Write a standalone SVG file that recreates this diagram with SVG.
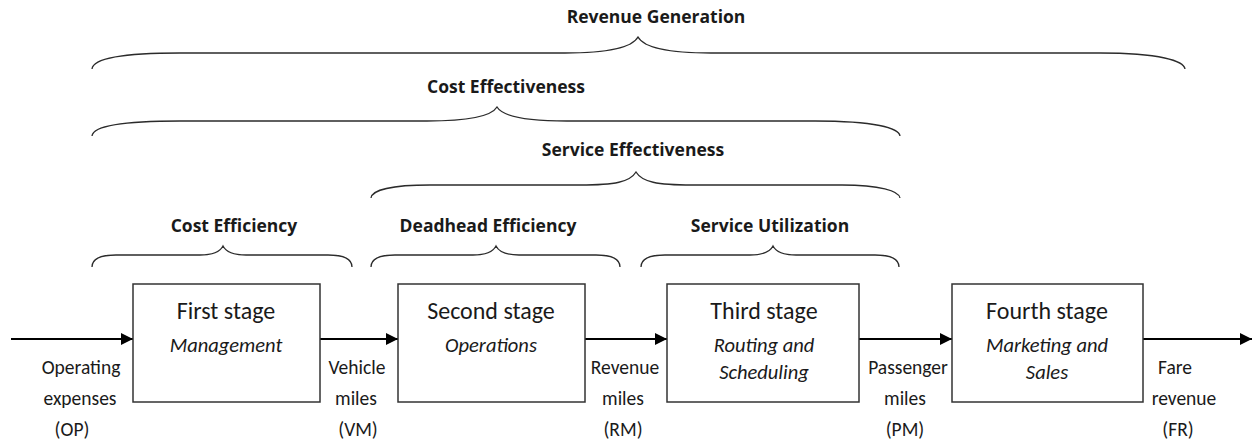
<svg xmlns="http://www.w3.org/2000/svg" width="1253" height="444" viewBox="0 0 1253 444">
  <style>
    text { font-family: Carlito, Lato, "Liberation Sans", sans-serif; fill: #1a1a1a; text-anchor: middle; }
    .hdr { font-family: "Open Sans", Lato, sans-serif; font-weight: bold; font-size: 17.5px; }
    .stage { font-size: 24px; }
    .role { font-size: 20.5px; font-style: italic; }
    .flow { font-size: 19.5px; }
    .brace { fill: none; stroke: #2b2b2b; stroke-width: 1.3; }
    .box { fill: #fff; stroke: #333; stroke-width: 1.5; }
    .arrow { stroke: #000; stroke-width: 2; fill: none; marker-end: url(#head); }
  </style>
  <defs>
    <marker id="head" viewBox="0 0 12 12" refX="12" refY="6" markerWidth="12" markerHeight="12" markerUnits="userSpaceOnUse" orient="auto">
      <path d="M0,0 L12,6 L0,12 Z" fill="#000"/>
    </marker>
  </defs>

  <rect width="1253" height="444" fill="#fff"/>

  <!-- Grouping braces and their headings -->
  <g id="revenue-generation">
    <text class="hdr" x="656" y="23">Revenue Generation</text>
    <path class="brace" d="M92,69 C93,59 120,53 180,53 L565,53 C605,53 632,48 638,37 C644,48 671,53 711,53 L1100,53 C1160,53 1184,61 1185,69"/>
  </g>
  <g id="cost-effectiveness">
    <text class="hdr" x="506" y="93">Cost Effectiveness</text>
    <path class="brace" d="M92,136 C93,126 120,121 180,121 L427,121 C465,121 491,117 497,107 C503,117 529,121 567,121 L815,121 C875,121 899,128 900,136"/>
  </g>
  <g id="service-effectiveness">
    <text class="hdr" x="633" y="156">Service Effectiveness</text>
    <path class="brace" d="M371,198 C372,190 392,185 430,185 L580,185 C615,185 630,182 636,172 C642,182 657,185 692,185 L842,185 C880,185 899,191 900,198"/>
  </g>
  <g id="cost-efficiency">
    <text class="hdr" x="234" y="232">Cost Efficiency</text>
    <path class="brace" d="M92,267 C92,260 98,255 116,255 L200,255 C214,255 220,252 223,246 C226,252 232,255 246,255 L328,255 C346,255 352,260 352,267"/>
  </g>
  <g id="deadhead-efficiency">
    <text class="hdr" x="488" y="232">Deadhead Efficiency</text>
    <path class="brace" d="M371,267 C371,260 377,255 395,255 L473,255 C487,255 493,252 496,246 C499,252 505,255 519,255 L596,255 C614,255 620,260 620,267"/>
  </g>
  <g id="service-utilization">
    <text class="hdr" x="770" y="232">Service Utilization</text>
    <path class="brace" d="M641,267 C641,260 647,255 665,255 L750,255 C764,255 770,252 773,246 C776,252 782,255 796,255 L875,255 C893,255 899,260 899,267"/>
  </g>

  <!-- Flow arrows between stages -->
  <g id="connectors">
    <path class="arrow" d="M11,339 L133,339"/>
    <path class="arrow" d="M320,339 L398,339"/>
    <path class="arrow" d="M585,339 L667,339"/>
    <path class="arrow" d="M859,339 L952,339"/>
    <path class="arrow" d="M1143,339 L1252,339"/>
  </g>

  <!-- Stage boxes -->
  <g id="stage-1">
    <rect class="box" x="133" y="284" width="187" height="118"/>
    <text class="stage" x="226" y="319">First stage</text>
    <text class="role" x="226" y="352">Management</text>
  </g>
  <g id="stage-2">
    <rect class="box" x="398" y="284" width="187" height="118"/>
    <text class="stage" x="491" y="319">Second stage</text>
    <text class="role" x="491" y="352">Operations</text>
  </g>
  <g id="stage-3">
    <rect class="box" x="667" y="284" width="192" height="118"/>
    <text class="stage" x="764" y="319">Third stage</text>
    <text class="role" x="764" y="352">Routing and</text>
    <text class="role" x="764" y="379">Scheduling</text>
  </g>
  <g id="stage-4">
    <rect class="box" x="952" y="284" width="191" height="118"/>
    <text class="stage" x="1047" y="319">Fourth stage</text>
    <text class="role" x="1047" y="352">Marketing and</text>
    <text class="role" x="1047" y="379">Sales</text>
  </g>

  <!-- Flow quantity labels -->
  <g id="label-op">
    <text class="flow" x="81" y="374">Operating</text>
    <text class="flow" x="80" y="405">expenses</text>
    <text class="flow" x="72" y="436">(OP)</text>
  </g>
  <g id="label-vm">
    <text class="flow" x="357" y="374">Vehicle</text>
    <text class="flow" x="356" y="405">miles</text>
    <text class="flow" x="358" y="436">(VM)</text>
  </g>
  <g id="label-rm">
    <text class="flow" x="625" y="374">Revenue</text>
    <text class="flow" x="623" y="405">miles</text>
    <text class="flow" x="623" y="436">(RM)</text>
  </g>
  <g id="label-pm">
    <text class="flow" x="908" y="374">Passenger</text>
    <text class="flow" x="905" y="405">miles</text>
    <text class="flow" x="905" y="436">(PM)</text>
  </g>
  <g id="label-fr">
    <text class="flow" x="1175" y="374">Fare</text>
    <text class="flow" x="1184" y="405">revenue</text>
    <text class="flow" x="1178" y="436">(FR)</text>
  </g>
</svg>
